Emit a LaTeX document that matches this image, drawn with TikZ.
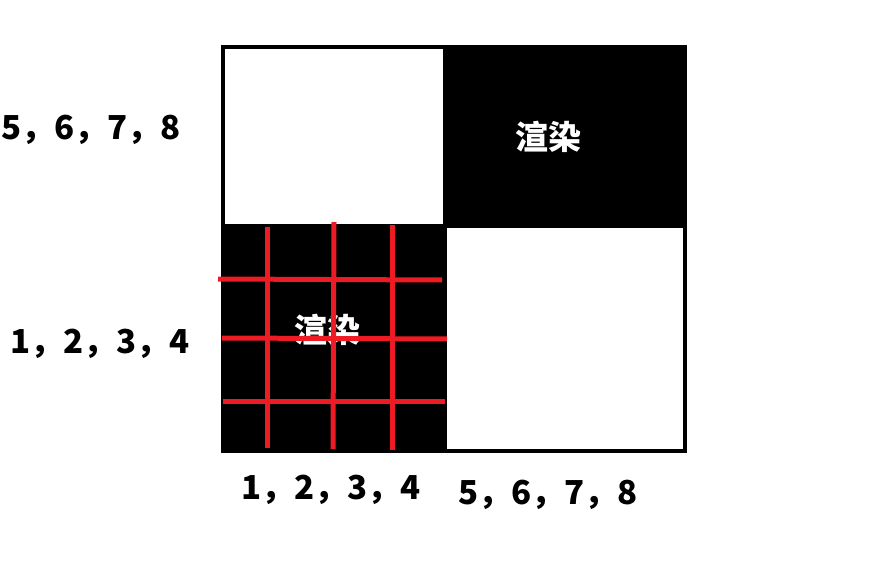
\documentclass[tikz,border=0pt]{standalone}
\usepackage{fontspec}
\newfontfamily\cjk{Noto Sans CJK SC}
\usetikzlibrary{positioning}
\definecolor{paintred}{RGB}{237,28,36}
\def\Render{渲染}

\begin{document}
\begin{tikzpicture}[x=1pt,y=-1pt,% styles for the whole picture
			every node/.style={
				inner sep=0pt,
				outer sep=0pt
			},
			block/.style={rectangle,line width=4pt,draw=black},
			num/.style={font=\cjk\bfseries\fontsize{33}{36}\selectfont},
			tag/.style={font=\cjk\bfseries\fontsize{33}{36}\selectfont,text=white},
			gridline/.style={draw=paintred,line width=5pt}
		]
		\useasboundingbox (0,0) rectangle (871,583);
		% four quadrants
		\node[block,fill=white,minimum width=222pt,minimum height=179pt](Q1) at (334,136.5){};
		\node[block,fill=black,minimum width=240pt,minimum height=179pt](Q2)[right=0pt of Q1]{};
		\node[block,fill=black,minimum width=222pt,minimum height=225pt](Q3)[below=0pt of Q1]{};
		\node[block,fill=white,minimum width=240pt,minimum height=225pt](Q4)[below=0pt of Q2]{};
		% texts
		\node[tag](T2) at (548,137){\Render};
		\node[tag](T3) at (327,330){\Render};
		\node[num](L1) at (91,130){5，6，7，8};
		\node[num](L2) at (100,344){1，2，3，4};
		\node[num](B1) at (331,490){1，2，3，4};
		\node[num](B2) at (548,495){5，6，7，8};
		% red grid on the lower left block, over the text
		\draw[gridline] (267,227) -- (267,448);
		\draw[gridline] (334,222) -- (333,449);
		\draw[gridline] (392,225) -- (392,450);
		\draw[gridline] (218,279) -- (442,280);
		\draw[gridline] (222,338) -- (447,339);
		\draw[gridline] (223,401) -- (445,401);
	\end{tikzpicture}
\end{document}
